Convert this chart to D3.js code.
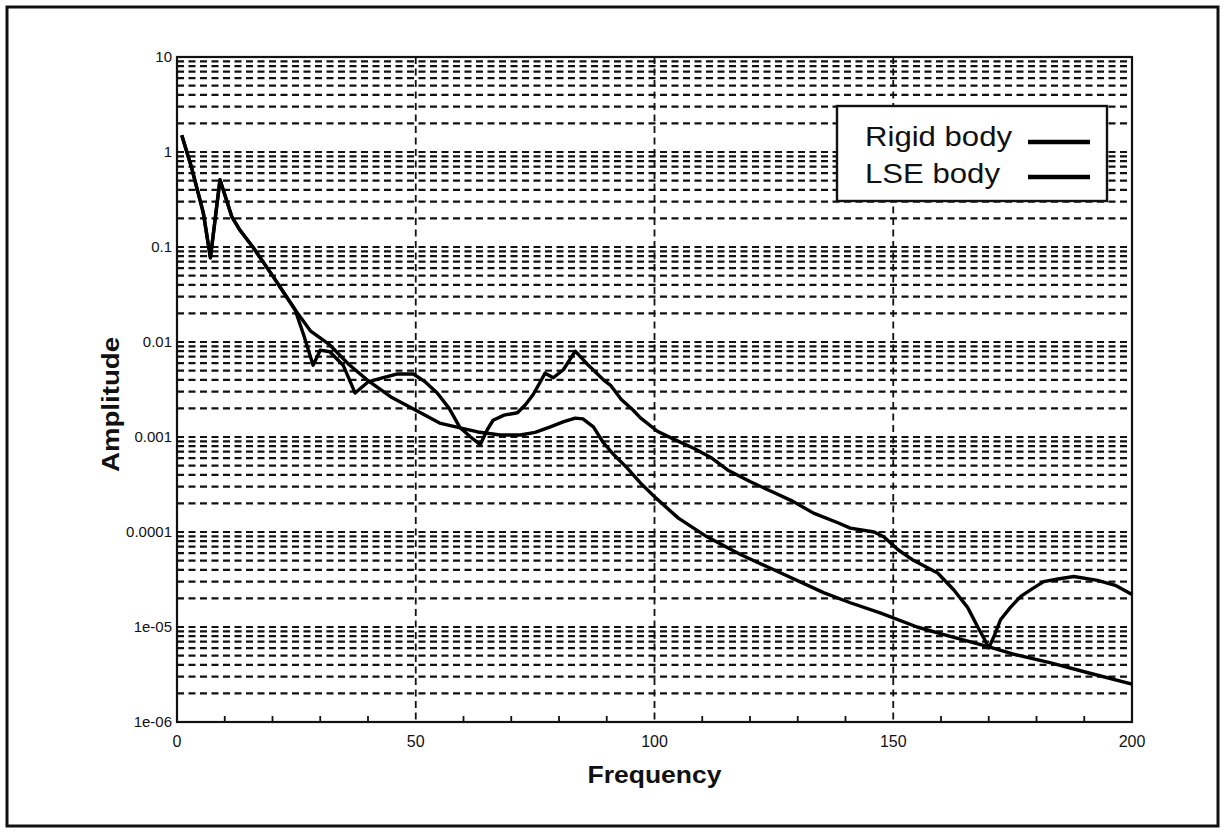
<!DOCTYPE html>
<html>
<head>
<meta charset="utf-8">
<script src="https://cdn.jsdelivr.net/npm/d3@7"></script>
<style>
    body { margin: 0; background: #fff; }
    svg { display: block; font-family: 'Liberation Sans', Arial, Helvetica, sans-serif; }
</style>
</head>
<body>
<svg></svg>
<script>
const width = 1225;
const height = 833;

// series: frequency / amplitude
const rigidFreq = [1, 3, 5.5, 7, 9, 11.5, 13.2, 16, 20, 24.7, 28, 32, 36, 39.8, 45, 51, 55, 59.3, 63, 67.7,
    71.9, 75, 78.2, 81, 83.4, 85, 87.2, 89.3, 91.5, 94.3, 97, 100.2, 105, 111, 118, 125, 135.4, 141, 147.4,
    155, 160.6, 166, 170.4, 175, 183, 190.8, 200];
const rigidAmp = [1.5, 0.7, 0.23, 0.077, 0.51, 0.207, 0.15, 0.098, 0.05, 0.022, 0.013, 0.0093, 0.0058, 0.004,
    0.0026, 0.0018, 0.0014, 0.00125, 0.00113, 0.00105, 0.00105, 0.00112, 0.00128, 0.00145, 0.00158, 0.00155,
    0.00128, 0.00087, 0.00065, 0.00047, 0.00033, 0.00023, 0.00014, 8.9e-5, 5.8e-5, 4e-5, 2.3e-5, 1.8e-5,
    1.4e-5, 1.0e-5, 8.3e-6, 7e-6, 6.1e-6, 5.2e-6, 4.2e-6, 3.3e-6, 2.5e-6];

const lseFreq = [1, 3, 5.5, 7, 9, 11.5, 13.2, 16, 20, 24.7, 26.5, 28.5, 30, 32, 34.8, 37.3, 40, 43, 46, 49.5,
    52, 54.5, 57, 59.3, 61.5, 63.5, 65, 66.2, 68.5, 71.3, 73, 74.6, 77.1, 78.8, 80.9, 83.4, 86, 89.3, 90.8,
    93, 95.6, 97, 100.6, 104, 108.2, 112, 115.3, 120, 125, 129, 133.3, 138.4, 141, 146, 148, 151, 154.3,
    159.3, 162.7, 165.6, 167.7, 169, 170, 171.2, 172.5, 174.5, 176.7, 179, 181.5, 184.5, 187.8, 192.8,
    196.5, 200];
const lseAmp = [1.5, 0.7, 0.23, 0.077, 0.51, 0.207, 0.15, 0.098, 0.05, 0.022, 0.012, 0.0057, 0.0082, 0.0079,
    0.0057, 0.0029, 0.0038, 0.0042, 0.0046, 0.0046, 0.0038, 0.0029, 0.002, 0.00125, 0.001, 0.00083, 0.0012,
    0.0015, 0.0017, 0.0018, 0.0022, 0.0028, 0.0047, 0.0042, 0.0051, 0.008, 0.0058, 0.004, 0.0035, 0.0025,
    0.0019, 0.0016, 0.00115, 0.00095, 0.00076, 0.0006, 0.00045, 0.00034, 0.00026, 0.00021, 0.000158,
    0.000125, 0.00011, 0.0001, 8.9e-5, 6.5e-5, 5e-5, 3.7e-5, 2.45e-5, 1.6e-5, 1e-5, 7.6e-6, 6e-6, 8.2e-6,
    1.2e-5, 1.6e-5, 2.1e-5, 2.5e-5, 3e-5, 3.2e-5, 3.4e-5, 3.1e-5, 2.75e-5, 2.2e-5];

const xTicks = [0, 50, 100, 150, 200];
const xMinorTicks = [10, 20, 30, 40, 60, 70, 80, 90, 110, 120, 130, 140, 160, 170, 180, 190];
const xGrid = [50, 100, 150];
const yTicks = [10, 1, 0.1, 0.01, 0.001, 0.0001, 1e-5, 1e-6];
const yTickLabels = ['10', '1', '0.1', '0.01', '0.001', '0.0001', '1e-05', '1e-06'];
const legendNames = ['Rigid body', 'LSE body'];

const plot = { left: 177, top: 57, right: 1132, bottom: 722 };

const svg = d3.select('svg')
    .attr('width', width)
    .attr('height', height);

// outer frame
svg.append('rect')
    .attr('x', 7).attr('y', 7)
    .attr('width', 1211).attr('height', 819)
    .attr('fill', 'none')
    .attr('stroke', '#111')
    .attr('stroke-width', 3);

const x = d3.scaleLinear().domain([0, 200]).range([plot.left, plot.right]);
const y = d3.scaleLog().domain([1e-6, 10]).range([plot.bottom, plot.top]);

// horizontal dashed grid, every log step
const yGrid = [];
for (let e = -6; e <= 0; e++) {
    for (let k = 1; k <= 9; k++) yGrid.push(k * Math.pow(10, e));
}

const g = svg.append('g');

g.selectAll('line.hgrid')
    .data(yGrid)
    .enter().append('line')
    .attr('class', 'hgrid')
    .attr('x1', plot.left).attr('x2', plot.right)
    .attr('y1', d => y(d)).attr('y2', d => y(d))
    .attr('stroke', '#111')
    .attr('stroke-width', 2.2)
    .attr('stroke-dasharray', '7,4.5');

g.selectAll('line.vgrid')
    .data(xGrid)
    .enter().append('line')
    .attr('class', 'vgrid')
    .attr('x1', d => x(d)).attr('x2', d => x(d))
    .attr('y1', plot.top).attr('y2', plot.bottom)
    .attr('stroke', '#111')
    .attr('stroke-width', 1.8)
    .attr('stroke-dasharray', '7,4.5');

// minor x ticks along bottom
g.selectAll('line.xminor')
    .data(xMinorTicks)
    .enter().append('line')
    .attr('class', 'xminor')
    .attr('x1', d => x(d)).attr('x2', d => x(d))
    .attr('y1', plot.bottom).attr('y2', plot.bottom - 6)
    .attr('stroke', '#111')
    .attr('stroke-width', 1.8);

// plot box
g.append('rect')
    .attr('x', plot.left).attr('y', plot.top)
    .attr('width', plot.right - plot.left)
    .attr('height', plot.bottom - plot.top)
    .attr('fill', 'none')
    .attr('stroke', '#111')
    .attr('stroke-width', 2.2);

// tick labels
g.selectAll('text.xtick')
    .data(xTicks)
    .enter().append('text')
    .attr('class', 'xtick')
    .attr('x', d => x(d))
    .attr('y', plot.bottom + 25)
    .attr('text-anchor', 'middle')
    .attr('font-size', 16)
    .attr('fill', '#111')
    .text(d => d);

g.selectAll('text.ytick')
    .data(yTicks)
    .enter().append('text')
    .attr('class', 'ytick')
    .attr('x', plot.left - 5)
    .attr('y', d => y(d))
    .attr('dy', '0.35em')
    .attr('text-anchor', 'end')
    .attr('font-size', 15)
    .attr('fill', '#111')
    .text((d, i) => yTickLabels[i]);

// axis titles
svg.append('text')
    .attr('x', (plot.left + plot.right) / 2)
    .attr('y', 783)
    .attr('text-anchor', 'middle')
    .attr('font-size', 24)
    .attr('font-weight', 'bold')
    .attr('fill', '#111')
    .attr('textLength', 134)
    .attr('lengthAdjust', 'spacingAndGlyphs')
    .text('Frequency');

svg.append('text')
    .attr('transform', `translate(119, ${(plot.top + plot.bottom) / 2 + 15}) rotate(-90)`)
    .attr('text-anchor', 'middle')
    .attr('font-size', 24)
    .attr('font-weight', 'bold')
    .attr('fill', '#111')
    .attr('textLength', 135)
    .attr('lengthAdjust', 'spacingAndGlyphs')
    .text('Amplitude');

// curves
const line = d3.line()
    .x(d => x(d[0]))
    .y(d => y(d[1]))
    .curve(d3.curveLinear);

const series = [
    rigidFreq.map((f, i) => [f, rigidAmp[i]]),
    lseFreq.map((f, i) => [f, lseAmp[i]])
];

g.selectAll('path.curve')
    .data(series)
    .enter().append('path')
    .attr('class', 'curve')
    .attr('d', line)
    .attr('fill', 'none')
    .attr('stroke', '#000')
    .attr('stroke-width', 3.4)
    .attr('stroke-linejoin', 'round');

// legend
const legend = svg.append('g');
legend.append('rect')
    .attr('x', 837).attr('y', 106)
    .attr('width', 270).attr('height', 95)
    .attr('fill', '#fff')
    .attr('stroke', '#111')
    .attr('stroke-width', 2.4);

const item = legend.selectAll('g.item')
    .data(legendNames)
    .enter().append('g')
    .attr('class', 'item');

item.append('text')
    .attr('x', 865)
    .attr('y', (d, i) => 146 + i * 37)
    .attr('font-size', 28)
    .attr('fill', '#111')
    .attr('textLength', (d, i) => i === 0 ? 147 : 135)
    .attr('lengthAdjust', 'spacingAndGlyphs')
    .text(d => d);

item.append('line')
    .attr('x1', 1028).attr('x2', 1090)
    .attr('y1', (d, i) => 142 + i * 35)
    .attr('y2', (d, i) => 142 + i * 35)
    .attr('stroke', '#000')
    .attr('stroke-width', 4.5);
</script>
</body>
</html>
